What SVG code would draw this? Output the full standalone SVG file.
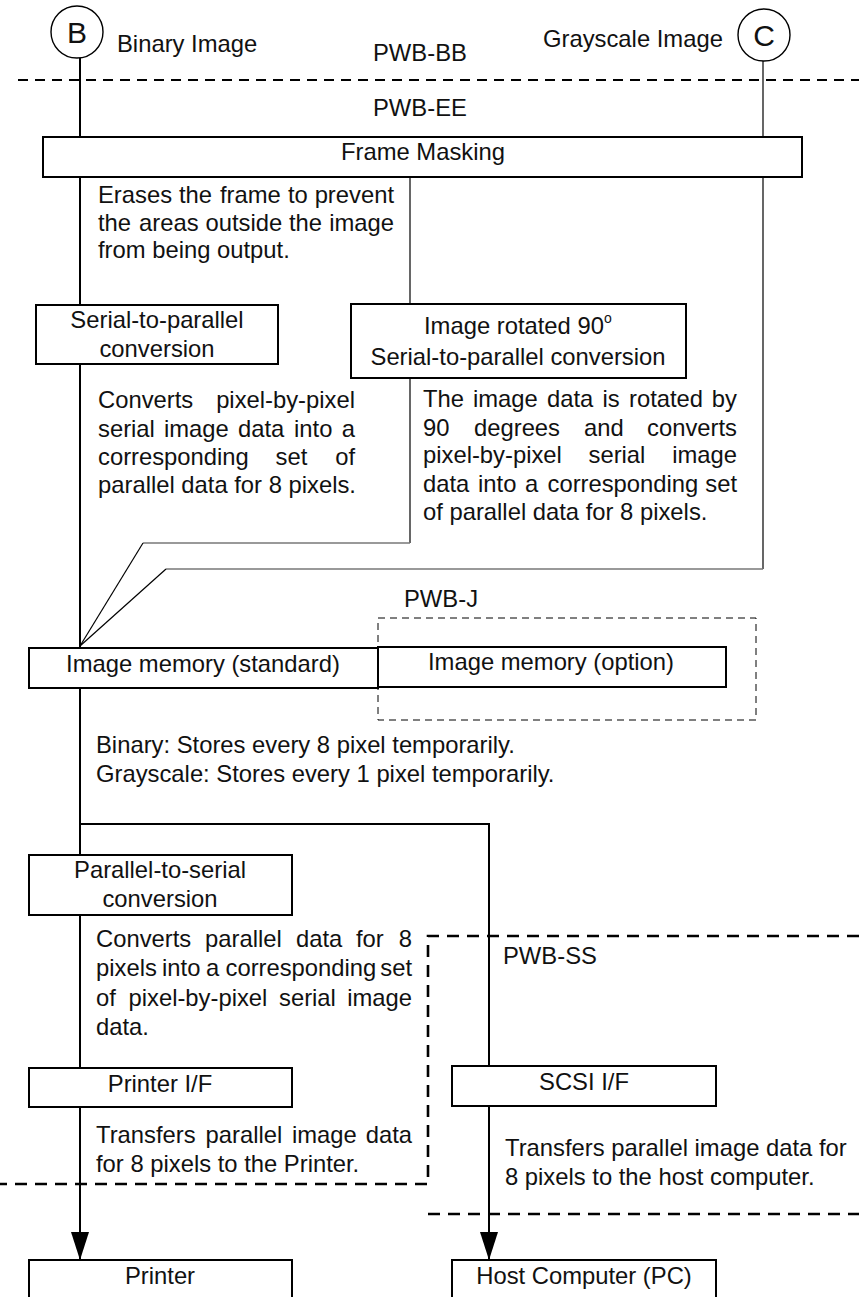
<svg xmlns="http://www.w3.org/2000/svg" width="859" height="1297" viewBox="0 0 859 1297">
<style>
text { font-family: "Liberation Sans", Arial, Helvetica, sans-serif; font-size: 23.8px; fill: #111; }
.box { fill: #fff; stroke: #000; stroke-width: 2; }
.ln { fill: none; stroke: #000; stroke-width: 2; }
.thin { fill: none; stroke: #000; stroke-width: 1.2; }
.gray { fill: none; stroke: #777; stroke-width: 1.6; }
.dash { fill: none; stroke: #000; stroke-width: 2; stroke-dasharray: 10 7; }
.dash2 { fill: none; stroke: #000; stroke-width: 2.6; stroke-dasharray: 12 8; }
.dash3 { fill: none; stroke: #000; stroke-width: 1; stroke-dasharray: 7 5; }
.circ { fill: #fff; stroke: #000; stroke-width: 1.4; }
.big { font-size: 30px; text-anchor: middle; }
.c { text-anchor: middle; }
.e { text-anchor: end; }
</style>
<defs>
<marker id="arr" markerUnits="userSpaceOnUse" markerWidth="28" markerHeight="18" viewBox="0 0 28 18" refX="28" refY="9" orient="auto">
<path d="M0,0 L28,9 L0,18 Z" fill="#000"/>
</marker>
</defs>

<g id="boundaries">
<path class="dash" d="M18 80 H859"/>
<rect class="dash3" x="378" y="618" width="378" height="102"/>
<path class="dash2" d="M859 936 H428 V1184 H0"/>
<path class="dash2" d="M428 1214 H859"/>
<text x="373" y="61">PWB-BB</text>
<text x="373" y="116">PWB-EE</text>
<text x="404" y="607">PWB-J</text>
<text x="503" y="964">PWB-SS</text>
</g>

<g id="connectors">
<path class="ln" d="M80 58 V137"/>
<path class="ln" d="M80 177 V305"/>
<path class="ln" d="M80 364 V648"/>
<path class="ln" d="M80 688 V855"/>
<path class="ln" d="M80 915 V1068"/>
<path class="ln" d="M80 1107 V1260" marker-end="url(#arr)"/>
<path class="thin" d="M763 61 V137"/>
<path class="thin" d="M763 177 V569"/>
<path class="gray" d="M763 569 H166"/>
<path class="thin" d="M166 569 L80 646"/>
<path class="thin" d="M410 177 V304"/>
<path class="thin" d="M410 378 V543"/>
<path class="gray" d="M410 543 H143"/>
<path class="thin" d="M143 543 L80 646"/>
<path class="ln" d="M80 824 H489 V1066"/>
<path class="ln" d="M489 1106 V1260" marker-end="url(#arr)"/>
</g>

<g id="nodeB">
<circle class="circ" cx="77" cy="32" r="26"/>
<text class="big" x="77" y="43">B</text>
<text x="117" y="52">Binary Image</text>
</g>

<g id="nodeC">
<circle class="circ" cx="764" cy="35" r="26"/>
<text class="big" x="764" y="46">C</text>
<text x="543" y="47">Grayscale Image</text>
</g>

<g id="frameMasking">
<rect class="box" x="43" y="137" width="759" height="40"/>
<text class="c" x="423" y="160">Frame Masking</text>
</g>

<g id="frameNote">
<text y="203"><tspan x="98">Erases</tspan><tspan x="179">the</tspan><tspan x="220">frame</tspan><tspan x="288">to</tspan><tspan x="394" class="e">prevent</tspan></text>
<text y="231"><tspan x="98">the</tspan><tspan x="139">areas</tspan><tspan x="205.5">outside</tspan><tspan x="289">the</tspan><tspan x="394" class="e">image</tspan></text>
<text x="98" y="258">from being output.</text>
</g>

<g id="serialToParallel">
<rect class="box" x="36" y="305" width="242" height="59"/>
<text class="c" x="157" y="328">Serial-to-parallel</text>
<text class="c" x="157" y="357">conversion</text>
</g>

<g id="rotated">
<rect class="box" x="351" y="304" width="335" height="74"/>
<text x="424" y="334">Image rotated 90<tspan font-size="14" dy="-11">o</tspan></text>
<text class="c" x="518" y="365">Serial-to-parallel conversion</text>
</g>

<g id="s2pNote">
<text y="408"><tspan x="98">Converts</tspan><tspan x="355" class="e">pixel-by-pixel</tspan></text>
<text y="437"><tspan x="98">serial</tspan><tspan x="164">image</tspan><tspan x="238">data</tspan><tspan x="294">into</tspan><tspan x="355" class="e">a</tspan></text>
<text y="465"><tspan x="98">corresponding</tspan><tspan x="275.5">set</tspan><tspan x="355" class="e">of</tspan></text>
<text x="98" y="493">parallel data for 8 pixels.</text>
</g>

<g id="rotatedNote">
<text y="407"><tspan x="423">The</tspan><tspan x="473">image</tspan><tspan x="547">data</tspan><tspan x="602.5">is</tspan><tspan x="629">rotated</tspan><tspan x="737" class="e">by</tspan></text>
<text y="436"><tspan x="423">90</tspan><tspan x="474">degrees</tspan><tspan x="584">and</tspan><tspan x="737" class="e">converts</tspan></text>
<text y="463"><tspan x="423">pixel-by-pixel</tspan><tspan x="588.5">serial</tspan><tspan x="737" class="e">image</tspan></text>
<text y="492"><tspan x="423">data</tspan><tspan x="478">into</tspan><tspan x="525">a</tspan><tspan x="547.5">corresponding</tspan><tspan x="737" class="e">set</tspan></text>
<text x="423" y="520">of parallel data for 8 pixels.</text>
</g>

<g id="memStandard">
<rect class="box" x="29" y="648" width="349" height="40"/>
<text class="c" x="203" y="672">Image memory (standard)</text>
</g>

<g id="memOption">
<rect class="box" x="378" y="647" width="348" height="40"/>
<text class="c" x="551" y="670">Image memory (option)</text>
</g>

<g id="memNote">
<text x="96" y="753">Binary: Stores every 8 pixel temporarily.</text>
<text x="96" y="782">Grayscale: Stores every 1 pixel temporarily.</text>
</g>

<g id="parallelToSerial">
<rect class="box" x="29" y="855" width="263" height="60"/>
<text class="c" x="160" y="878">Parallel-to-serial</text>
<text class="c" x="160" y="907">conversion</text>
</g>

<g id="p2sNote">
<text y="947"><tspan x="96">Converts</tspan><tspan x="205">parallel</tspan><tspan x="296">data</tspan><tspan x="356">for</tspan><tspan x="412" class="e">8</tspan></text>
<text y="976"><tspan x="96">pixels</tspan><tspan x="162">into</tspan><tspan x="206">a</tspan><tspan x="225.5">corresponding</tspan><tspan x="412" class="e">set</tspan></text>
<text y="1006"><tspan x="96">of</tspan><tspan x="128.5">pixel-by-pixel</tspan><tspan x="279">serial</tspan><tspan x="412" class="e">image</tspan></text>
<text x="96" y="1035">data.</text>
</g>

<g id="printerIF">
<rect class="box" x="29" y="1068" width="263" height="39"/>
<text class="c" x="160" y="1092">Printer I/F</text>
</g>

<g id="printerNote">
<text y="1143"><tspan x="96">Transfers</tspan><tspan x="205.5">parallel</tspan><tspan x="292">image</tspan><tspan x="412" class="e">data</tspan></text>
<text x="96" y="1172">for 8 pixels to the Printer.</text>
</g>

<g id="printer">
<rect class="box" x="29" y="1260" width="263" height="60"/>
<text class="c" x="160" y="1284">Printer</text>
</g>

<g id="scsiIF">
<rect class="box" x="452" y="1066" width="264" height="40"/>
<text class="c" x="584" y="1090">SCSI I/F</text>
</g>

<g id="scsiNote">
<text x="505" y="1156">Transfers parallel image data for</text>
<text x="505" y="1185">8 pixels to the host computer.</text>
</g>

<g id="host">
<rect class="box" x="452" y="1260" width="264" height="60"/>
<text class="c" x="584" y="1284">Host Computer (PC)</text>
</g>
</svg>
